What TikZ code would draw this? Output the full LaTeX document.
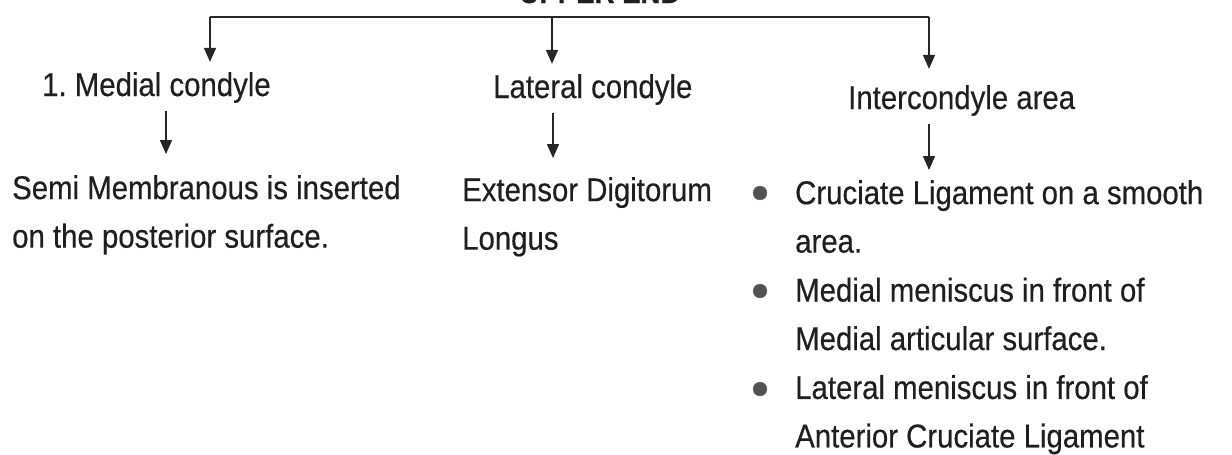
\documentclass[tikz,border=0pt]{standalone}
\usepackage{fontspec}
\setmainfont[FakeStretch=0.89, FakeBold=0.4]{Liberation Sans}
\usetikzlibrary{positioning, arrows.meta}

\begin{document}
\begin{tikzpicture}[
    x=1pt, y=-1pt,
    font=\fontsize{33pt}{48.5pt}\selectfont,
    txt/.style={inner sep=0pt, align=left, text=black!88},
    ttl/.style={inner sep=0pt, font=\fontsize{31pt}{48.5pt}\selectfont\bfseries, text=black!88},
    dot/.style={circle, draw=black!55, fill=black!68, minimum size=14pt, inner sep=0pt},
    bar/.style={line width=1.8pt, draw=black!85},
    ar/.style={-{Triangle[length=14pt, width=12pt]}, line width=1.5pt, draw=black!85}
]
\useasboundingbox (0,0) rectangle (1232,455);

\node[ttl, anchor=base] (upper) at (600,3) {UPPER END};

% branch points on the bar and arrow columns
\coordinate (bl) at (210,17);
\coordinate (bm) at (552,17);
\coordinate (br) at (929,17);
\coordinate (cm) at (166,0);
\coordinate (cl) at (553,0);
\coordinate (ci) at (929,0);

\node[txt, anchor=base west] (med) at (42,96) {\strut 1.\ Medial condyle};
\node[txt, anchor=base west] (lat) at (493,98) {\strut Lateral condyle};
\node[txt, anchor=base west] (inter) at (848,109) {\strut Intercondyle area};

\node[txt, anchor=north west] (semi) at (12,165) {\strut Semi Membranous is inserted\\ \strut on the posterior surface.};
\node[txt, anchor=north west] (ext) at (462,167) {\strut Extensor Digitorum\\ \strut Longus};

\node[txt, anchor=north west] (cru) at (795,170) {\strut Cruciate Ligament on a smooth\\ \strut area.};
\node[txt, below=0pt of cru.south west, anchor=north west] (medmen) {\strut Medial meniscus in front of\\ \strut Medial articular surface.};
\node[txt, below=0pt of medmen.south west, anchor=north west] (latmen) {\strut Lateral meniscus in front of\\ \strut Anterior Cruciate Ligament};

\node[dot] (d1) at (760,193) {};
\node[dot] (d2) at (760,291) {};
\node[dot] (d3) at (760,389) {};

\draw[bar] (bl) -- (br);
\draw[ar] (bl) -- (bl |- med.north);
\draw[ar] (bm) -- (bm |- lat.north);
\draw[ar, shorten >=6pt] (br) -- (br |- inter.north);

\draw[ar, shorten >=11pt] (med.south -| cm) -- (semi.north -| cm);
\draw[ar, shorten >=9pt] (lat.south -| cl) -- (ext.north -| cl);
\draw[ar] (inter.south -| ci) -- (cru.north -| ci);
\end{tikzpicture}
\end{document}
